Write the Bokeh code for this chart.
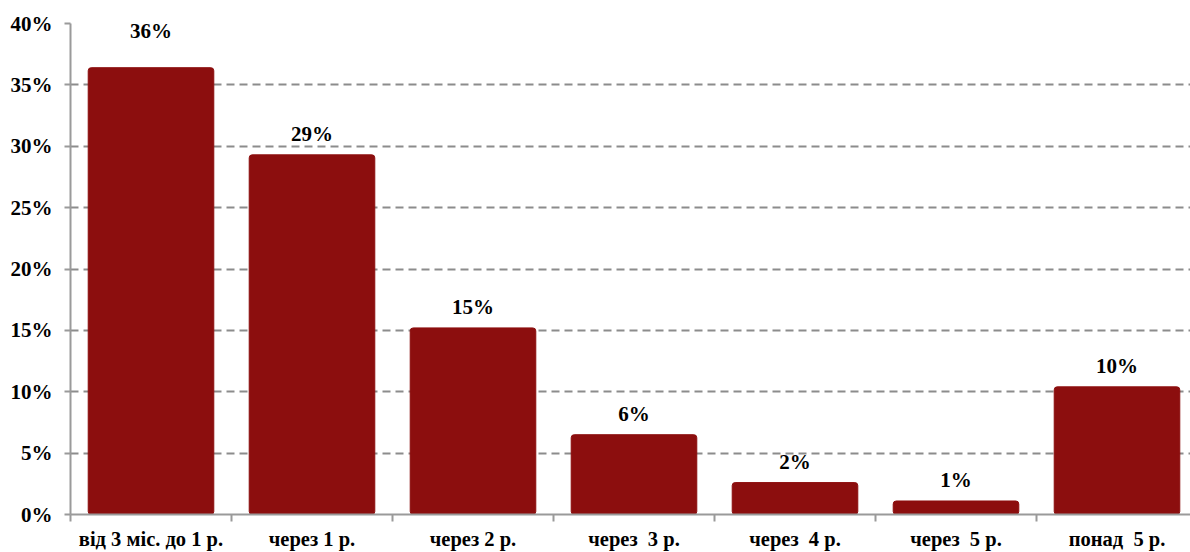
from bokeh.plotting import figure
from bokeh.models import Range1d, FixedTicker, PrintfTickFormatter, ColumnDataSource
from bokeh.core.properties import value
from bokeh.embed import file_html
from bokeh.resources import INLINE

categories = ["від 3 міс. до 1 р.", "через 1 р.", "через 2 р.", "через \u00a03 р.",
              "через \u00a04 р.", "через \u00a05 р.", "понад \u00a05 р."]
values = [36.4, 29.3, 15.2, 6.5, 2.6, 1.1, 10.4]
labels = ["36%", "29%", "15%", "6%", "2%", "1%", "10%"]
y_ticks = [0, 5, 10, 15, 20, 25, 30, 35, 40]

FONT = "'Liberation Serif', 'Times New Roman', serif"
BAR = "#8C0E0E"

n = len(categories)
xs = [i + 0.5 for i in range(n)]
# labels sit just above each bar; labels of bars near the top are pinned to the top
label_y = [v + 1.7 if v < 35 else 39.35 for v in values]

src = ColumnDataSource(dict(x=xs, top=values, ly=label_y, lab=labels))

p = figure(frame_width=1120, frame_height=491, output_backend="svg", toolbar_location=None,
           x_range=Range1d(0, 1120 / 161), y_range=Range1d(0, 40),
           min_border_left=70, min_border_right=0, min_border_top=23,
           min_border_bottom=30)
p.outline_line_color = None
p.background_fill_color = "white"
p.border_fill_color = "white"

p.vbar(x="x", top="top", bottom=0, width=0.78, source=src,
       fill_color=BAR, line_color=BAR, border_radius=3)

p.text(x="x", y="ly", text="lab", source=src, text_align="center",
       text_baseline="middle", text_font=value(FONT), text_font_style="bold",
       text_font_size="21px", text_color="black")

# x axis
p.xaxis.ticker = FixedTicker(ticks=xs, minor_ticks=list(range(n + 1)))
p.xaxis.major_label_overrides = {x: c for x, c in zip(xs, categories)}
p.xaxis.major_tick_line_color = None
p.xaxis.major_tick_out = 0
p.xaxis.major_tick_in = 0
p.xaxis.minor_tick_line_color = "#9a9a9a"
p.xaxis.minor_tick_line_width = 2
p.xaxis.minor_tick_out = 7
p.xaxis.minor_tick_in = 0
p.xaxis.axis_line_color = "#9a9a9a"
p.xaxis.axis_line_width = 2
p.xaxis.major_label_standoff = 6
p.xaxis.major_label_text_font = FONT
p.xaxis.major_label_text_font_style = "bold"
p.xaxis.major_label_text_font_size = "20.5px"
p.xaxis.major_label_text_color = "black"

# y axis
p.yaxis.ticker = FixedTicker(ticks=y_ticks, minor_ticks=[])
p.yaxis.formatter = PrintfTickFormatter(format="%d%%")
p.yaxis.major_tick_line_color = "#9a9a9a"
p.yaxis.major_tick_line_width = 2
p.yaxis.major_tick_out = 6
p.yaxis.major_tick_in = 0
p.yaxis.minor_tick_line_color = None
p.yaxis.axis_line_color = "#9a9a9a"
p.yaxis.axis_line_width = 2
p.yaxis.major_label_standoff = 12
p.yaxis.major_label_text_font = FONT
p.yaxis.major_label_text_font_style = "bold"
p.yaxis.major_label_text_font_size = "21px"
p.yaxis.major_label_text_color = "black"

p.xgrid.grid_line_color = None
p.ygrid.ticker = FixedTicker(ticks=y_ticks[1:])
p.ygrid.grid_line_color = "#8c8c8c"
p.ygrid.grid_line_width = 2
p.ygrid.grid_line_dash = "8 5"

open("out.html", "w").write(file_html(p, INLINE))
